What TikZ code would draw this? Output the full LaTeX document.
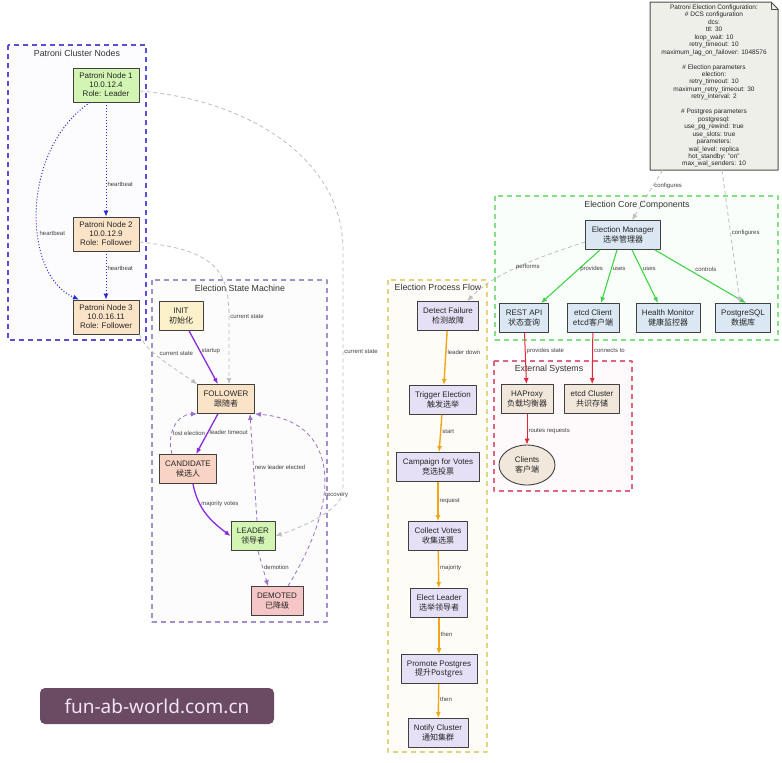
\documentclass[tikz,border=0pt]{standalone}
\usepackage{fontspec}
\setmainfont{Liberation Sans}
\newfontfamily\cjk{Noto Sans CJK SC}
\newfontfamily\wmfont{Noto Sans}
\usetikzlibrary{arrows.meta,shapes.geometric}
\definecolor{clusterc}{HTML}{5C4ED3}
\definecolor{statec}{HTML}{A38FC9}
\definecolor{procc}{HTML}{E4D47E}
\definecolor{corec}{HTML}{86DE86}
\definecolor{extc}{HTML}{E0657E}
\definecolor{leaderg}{HTML}{D2F5B4}
\definecolor{followp}{HTML}{FBE3C8}
\definecolor{initc}{HTML}{FCF1CB}
\definecolor{candc}{HTML}{F9D3C4}
\definecolor{demc}{HTML}{F6C6C6}
\definecolor{lavc}{HTML}{E6E0F6}
\definecolor{bluec}{HTML}{DBE8F4}
\definecolor{beigec}{HTML}{F1E7DA}
\definecolor{notec}{HTML}{EFEFE9}
\definecolor{hbc}{HTML}{2A2AD0}
\definecolor{smc}{HTML}{8A2BE2}
\definecolor{smdc}{HTML}{9B6FCF}
\definecolor{curc}{HTML}{BDBDBD}
\definecolor{flowc}{HTML}{F2A516}
\definecolor{corel}{HTML}{3FD34A}
\definecolor{extl}{HTML}{E32636}
\definecolor{wmc}{HTML}{6B4A63}
\begin{document}
\begin{tikzpicture}[x=1pt, y=-1pt, line join=round,
    frame/.style={dash pattern=on 5pt off 4pt, line width=1.1pt},
    ftitle/.style={font=\fontsize{8.8}{10}\selectfont, text=black!80},
    box/.style={draw=black!75, line width=0.9pt, align=center, text=black!85,
      font=\fontsize{8}{9.5}\selectfont, inner xsep=6pt, inner ysep=2pt, minimum height=29},
    pnode/.style={box, font=\fontsize{8}{9}\selectfont, minimum width=66, minimum height=34},
    lbl/.style={font=\fontsize{6}{7}\selectfont, text=black!75, inner sep=1pt},
    hb/.style={draw=hbc, dash pattern=on 1pt off 2pt, line width=1pt, -{Latex[length=6pt,width=5pt]}},
    smv/.style={draw=smc, line width=1.3pt, -{Latex[length=6pt,width=5pt]}},
    smd/.style={draw=smdc, dash pattern=on 4pt off 3pt, line width=0.8pt, -{Latex[length=6pt,width=5pt]}},
    cur/.style={draw=curc, dash pattern=on 4pt off 3pt, line width=0.8pt, -{Latex[length=6pt,width=5pt]}},
    flow/.style={draw=flowc, line width=1.4pt, -{Latex[length=6pt,width=5pt]}},
    core/.style={draw=corel, line width=1.1pt, -{Latex[length=6pt,width=5pt]}},
    extr/.style={draw=extl, line width=1pt, -{Latex[length=6pt,width=5pt]}},
    wmbox/.style={fill=wmc, rounded corners=5pt, minimum width=234, minimum height=36,
      text=white!90!violet, font=\wmfont\fontsize{19}{22}\selectfont}]
  \useasboundingbox (0,0) rectangle (782,763);
  % 集群节点
  \draw[frame, draw=clusterc, fill=clusterc!2] (8,45) rectangle (146,340);
  \node[ftitle] (tcl) at (77,53) {Patroni Cluster Nodes};
  \node[pnode, fill=leaderg] (n1) at (106,85) {Patroni Node 1\\10.0.12.4\\Role: Leader};
  \node[pnode, fill=followp] (n2) at (106,234) {Patroni Node 2\\10.0.12.9\\Role: Follower};
  \node[pnode, fill=followp] (n3) at (106,317) {Patroni Node 3\\10.0.16.11\\Role: Follower};
  \draw[hb] (n1) -- node[lbl, pos=.72, anchor=west] {heartbeat} (n2);
  \draw[hb] (n2) -- node[lbl, pos=.36, anchor=west] {heartbeat} (n3);
  \draw[hb] ([xshift=-16]n1.south) .. controls (20,150) and (22,275) .. node[lbl, pos=.6, anchor=west] {heartbeat} ([xshift=-27]n3.north);
  % 状态机
  \draw[frame, draw=statec, fill=statec!3] (152,280) rectangle (327,622);
  \node[ftitle] (tsm) at (240,288) {Election State Machine};
  \node[box, fill=initc, minimum width=44] (init) at (181,316) {INIT\\\cjk 初始化};
  \node[box, fill=followp] (fl) at (226,399) {FOLLOWER\\\cjk 跟随者};
  \node[box, fill=candc] (cd) at (188,469) {CANDIDATE\\\cjk 候选人};
  \node[box, fill=leaderg] (ld) at (253,536) {LEADER\\\cjk 领导者};
  \node[box, fill=demc] (dm) at (277,601) {DEMOTED\\\cjk 已降级};
  \draw[smv] (init) -- node[lbl, pos=.38, anchor=west] {startup} (fl);
  \draw[smv] (fl) -- node[lbl, pos=.45, anchor=west] {leader timeout} (cd);
  \draw[smv] ([xshift=5]cd.south) .. controls (198,510) and (212,522) .. node[lbl, pos=.3, anchor=west] {majority votes} (ld.west);
  \draw[smd] ([xshift=5]ld.south) -- node[lbl, pos=.47, anchor=west] {demotion} ([xshift=-9]dm.north);
  \draw[smd] ([xshift=-16]cd.north) .. controls (166,432) and (178,414) .. node[lbl, pos=.35, anchor=west] {lost election} (fl.south west);
  \draw[smd] ([xshift=4]ld.north) -- node[lbl, pos=.5, anchor=west] {new leader elected} ([xshift=24]fl.south);
  \draw[smd] ([xshift=11]dm.north) .. controls (348,488) and (332,420) .. node[lbl, pos=.35, anchor=west] {recovery} (fl.south east);
  % 当前状态（灰色虚线）
  \draw[cur] ([yshift=-6]n1.east) .. controls (250,100) and (343,160) .. (343,250) -- node[lbl, pos=.425, anchor=west] {current state} (343,490) .. controls (343,510) and (300,528) .. (ld.east);
  \draw[cur] ([yshift=-8]n2.east) .. controls (215,250) and (229,270) .. (229,317) node[lbl, anchor=west] {current state} -- ([xshift=3]fl.north);
  \draw[cur] (n3.south east) .. controls (145,350) and (165,362) .. node[lbl, pos=.5, anchor=south west] {current state} (fl.north west);
  % 选举流程
  \draw[frame, draw=procc, fill=procc!6] (388,280) rectangle (487,752);
  \node[ftitle] (tpf) at (438,287) {Election Process Flow};
  \node[box, fill=lavc] (df) at (448,316) {Detect Failure\\\cjk 检测故障};
  \node[box, fill=lavc] (te) at (443,400) {Trigger Election\\\cjk 触发选举};
  \node[box, fill=lavc] (cv) at (438,467) {Campaign for Votes\\\cjk 竞选投票};
  \node[box, fill=lavc] (cl) at (438,536) {Collect Votes\\\cjk 收集选票};
  \node[box, fill=lavc] (el) at (439,603) {Elect Leader\\\cjk 选举领导者};
  \node[box, fill=lavc] (pp) at (439,669) {Promote Postgres\\\cjk 提升Postgres};
  \node[box, fill=lavc] (nc) at (438,733) {Notify Cluster\\\cjk 通知集群};
  \draw[flow] (df) -- node[lbl, pos=.4, anchor=west] {leader down} (te);
  \draw[flow] (te) -- node[lbl, pos=.45, anchor=west] {start} (cv);
  \draw[flow] (cv) -- node[lbl, pos=.5, anchor=west] {request} (cl);
  \draw[flow] (cl) -- node[lbl, pos=.45, anchor=west] {majority} (el);
  \draw[flow] (el) -- node[lbl, pos=.45, anchor=west] {then} (pp);
  \draw[flow] (pp) -- node[lbl, pos=.45, anchor=west] {then} (nc);
  % 核心组件
  \draw[frame, draw=corec, fill=corec!4] (495,196) rectangle (778,340);
  \node[ftitle] (tcc) at (637,205) {Election Core Components};
  \node[box, fill=bluec, minimum width=75] (em) at (623,235) {Election Manager\\\cjk 选举管理器};
  \node[box, fill=bluec] (rest) at (524,318) {REST API\\\cjk 状态查询};
  \node[box, fill=bluec] (etc) at (593,318) {etcd Client\\\cjk etcd客户端};
  \node[box, fill=bluec] (hm) at (668,318) {Health Monitor\\\cjk 健康监控器};
  \node[box, fill=bluec] (pg) at (743,318) {PostgreSQL\\\cjk 数据库};
  \draw[core] ([xshift=-23]em.south) -- node[lbl, pos=.36, anchor=west] {provides} ([xshift=17]rest.north);
  \draw[core] ([xshift=-6]em.south) -- node[lbl, pos=.36, anchor=west] {uses} ([xshift=8]etc.north);
  \draw[core] ([xshift=9]em.south) -- node[lbl, pos=.36, anchor=west] {uses} ([xshift=-10]hm.north);
  \draw[core] ([xshift=32]em.south) -- node[lbl, pos=.36, anchor=west, xshift=6] {controls} ([xshift=3]pg.north);
  \draw[cur] ([yshift=-7]em.west) .. controls (545,255) and (495,272) .. node[lbl, pos=.45, anchor=north] {performs} ([xshift=-12]df.north east);
  % 外部系统
  \draw[frame, draw=extc, fill=extc!3] (494,361) rectangle (632,491);
  \node[ftitle] (tex) at (549,369) {External Systems};
  \node[box, fill=beigec] (hap) at (527,399) {HAProxy\\\cjk 负载均衡器};
  \node[box, fill=beigec] (ecl) at (592,399) {etcd Cluster\\\cjk 共识存储};
  \node[box, ellipse, fill=beigec, inner sep=0pt, minimum width=56, minimum height=40] (cli) at (527,465) {Clients\\\cjk 客户端};
  \draw[extr] (rest) -- node[lbl, pos=.35, anchor=west] {provides state} (hap);
  \draw[extr] (etc) -- node[lbl, pos=.35, anchor=west] {connects to} (ecl);
  \draw[extr] (hap) -- node[lbl, pos=.55, anchor=west] {routes requests} (cli);
  % 配置便签，右上角折角
  \filldraw[draw=black!70, fill=notec, line width=1pt] (650,2) -- (771,2) -- (778,9) -- (778,170) -- (650,170) -- cycle;
  \draw[black!70, line width=0.8pt] (771,2) -- (771,9) -- (778,9);
  \node[align=center, text=black!85, font=\fontsize{6.5}{7.45}\selectfont, minimum width=128, minimum height=168, inner sep=0pt] (cfg) at (714,86)
    {Patroni Election Configuration:\\\# DCS configuration\\dcs:\\ttl: 30\\loop\_wait: 10\\retry\_timeout: 10\\maximum\_lag\_on\_failover: 1048576\\[7.45pt]
     \# Election parameters\\election:\\retry\_timeout: 10\\maximum\_retry\_timeout: 30\\retry\_interval: 2\\[7.45pt]
     \# Postgres parameters\\postgresql:\\use\_pg\_rewind: true\\use\_slots: true\\parameters:\\wal\_level: replica\\hot\_standby: "on"\\max\_wal\_senders: 10};
  \draw[cur] (cfg) -- node[lbl, pos=.32, anchor=west] {configures} (em);
  \draw[cur] ([xshift=8]cfg.south) -- node[lbl, pos=.47, anchor=west] {configures} ([xshift=-3]pg.north);
  % 水印
  \node[wmbox] (wm) at (157,706) {fun-ab-world.com.cn};
\end{tikzpicture}
\end{document}
